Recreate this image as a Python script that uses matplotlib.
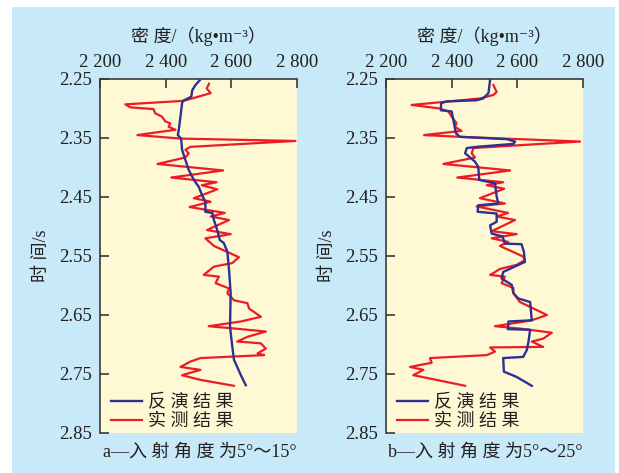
import matplotlib.pyplot as plt
from matplotlib.patches import Rectangle
from matplotlib.font_manager import FontProperties

# font lists: serif digits, CJK fallback
FAM = ['Liberation Serif', 'Noto Sans CJK SC', 'DejaVu Serif']
TXT = '#231f20'
RED = '#ec1c24'
BLUE = '#2e3192'

# panel a: measured (red)
t_meas_a = [2.258, 2.266, 2.274, 2.287, 2.293, 2.298, 2.301, 2.308, 2.314, 2.322,
            2.325, 2.331, 2.336, 2.345, 2.351, 2.355, 2.365, 2.370, 2.376, 2.383,
            2.394, 2.405, 2.417, 2.425, 2.430, 2.437, 2.452, 2.458, 2.467, 2.477,
            2.483, 2.489, 2.506, 2.513, 2.520, 2.533, 2.552, 2.562, 2.568, 2.582,
            2.585, 2.596, 2.605, 2.613, 2.625, 2.630, 2.639, 2.653, 2.661, 2.669,
            2.673, 2.678, 2.687, 2.695, 2.698, 2.707, 2.715, 2.718, 2.723, 2.729,
            2.738, 2.743, 2.752, 2.760, 2.770]
rho_meas_a = [2532, 2525, 2537, 2455, 2277, 2292, 2363, 2368, 2389, 2399,
              2414, 2409, 2430, 2314, 2445, 2795, 2475, 2460, 2470, 2460,
              2375, 2575, 2417, 2555, 2510, 2557, 2486, 2537, 2473, 2580,
              2537, 2593, 2526, 2598, 2521, 2547, 2623, 2603, 2547, 2516,
              2562, 2552, 2593, 2588, 2608, 2649, 2654, 2690, 2629, 2531,
              2611, 2705, 2649, 2618, 2690, 2705, 2680, 2700, 2506, 2475,
              2445, 2506, 2450, 2506, 2608]

# panel a: inversion (blue)
t_inv_a = [2.252, 2.260, 2.269, 2.280, 2.287, 2.291, 2.314, 2.336, 2.345, 2.351,
           2.370, 2.387, 2.404, 2.421, 2.433, 2.447, 2.458, 2.475, 2.477, 2.489,
           2.506, 2.523, 2.528, 2.543, 2.574, 2.613, 2.670, 2.704, 2.726, 2.738,
           2.752, 2.769]
rho_inv_a = [2504, 2491, 2481, 2478, 2453, 2450, 2445, 2440, 2437, 2447,
             2450, 2460, 2470, 2486, 2501, 2511, 2521, 2521, 2542, 2547,
             2557, 2565, 2577, 2588, 2593, 2598, 2596, 2603, 2608, 2618,
             2629, 2644]

# panel b: measured (red)
t_meas_b = [2.260, 2.272, 2.277, 2.283, 2.294, 2.300, 2.305, 2.314, 2.325, 2.331,
            2.338, 2.345, 2.348, 2.356, 2.367, 2.376, 2.383, 2.394, 2.405, 2.417,
            2.425, 2.430, 2.436, 2.452, 2.461, 2.466, 2.477, 2.483, 2.489, 2.508,
            2.513, 2.520, 2.526, 2.533, 2.551, 2.557, 2.565, 2.572, 2.579, 2.582,
            2.585, 2.596, 2.604, 2.613, 2.628, 2.650, 2.659, 2.669, 2.673, 2.680,
            2.690, 2.695, 2.704, 2.705, 2.712, 2.718, 2.723, 2.731, 2.738, 2.743,
            2.752, 2.760, 2.770]
rho_meas_b = [2527, 2537, 2527, 2486, 2278, 2365, 2390, 2400, 2415, 2410,
              2430, 2316, 2425, 2791, 2466, 2461, 2471, 2375, 2578, 2417,
              2557, 2507, 2560, 2486, 2562, 2476, 2572, 2537, 2593, 2522,
              2598, 2522, 2572, 2547, 2618, 2623, 2598, 2547, 2527, 2517,
              2562, 2552, 2588, 2588, 2608, 2690, 2644, 2532, 2608, 2705,
              2679, 2644, 2679, 2517, 2532, 2507, 2334, 2339, 2273, 2314,
              2283, 2354, 2441]

# panel b: inversion (blue)
t_inv_b = [2.252, 2.274, 2.283, 2.286, 2.288, 2.291, 2.303, 2.305, 2.319, 2.342,
           2.348, 2.352, 2.356, 2.360, 2.365, 2.367, 2.376, 2.383, 2.390, 2.399,
           2.421, 2.427, 2.449, 2.461, 2.464, 2.475, 2.478, 2.492, 2.498, 2.512,
           2.517, 2.529, 2.530, 2.543, 2.560, 2.577, 2.588, 2.599, 2.613, 2.622,
           2.628, 2.659, 2.661, 2.674, 2.675, 2.695, 2.709, 2.721, 2.723, 2.746,
           2.755, 2.770]
rho_inv_b = [2517, 2512, 2496, 2476, 2385, 2368, 2367, 2400, 2405, 2413,
             2425, 2568, 2593, 2588, 2476, 2446, 2441, 2456, 2471, 2481,
             2484, 2532, 2537, 2542, 2481, 2479, 2537, 2537, 2517, 2522,
             2555, 2562, 2613, 2620, 2623, 2557, 2552, 2583, 2588, 2603,
             2639, 2644, 2573, 2571, 2639, 2634, 2629, 2618, 2557, 2559,
             2598, 2644]

xticks = [2200, 2400, 2600, 2800]
xtick_labels = ['2 200', '2 400', '2 600', '2 800']
yticks = [2.25, 2.35, 2.45, 2.55, 2.65, 2.75, 2.85]
captions = ['a—入 射 角 度 为5°～15°', 'b—入 射 角 度 为5°～25°']
legend_labels = ['反 演 结 果', '实 测 结 果']

W, H = 619, 473
fig = plt.figure(figsize=(W / 100, H / 100), dpi=100)
fig.patch.set_facecolor('white')
fig.patches.append(Rectangle((12 / W, 0), (615 - 12) / W, (H - 7) / H,
                             transform=fig.transFigure, facecolor='#c7e9f8',
                             edgecolor='none', zorder=-10))

panels = [
    (100, t_meas_a, rho_meas_a, t_inv_a, rho_inv_a, captions[0]),
    (386, t_meas_b, rho_meas_b, t_inv_b, rho_inv_b, captions[1]),
]

for left, tm, rm, ti, ri, cap in panels:
    ax = fig.add_axes([left / W, (H - 433) / H, 197 / W, 354 / H])
    ax.set_facecolor('#fef9d4')
    inv, = ax.plot(ri, ti, color=BLUE, lw=1.7, zorder=3)
    meas, = ax.plot(rm, tm, color=RED, lw=1.6, zorder=2)
    ax.set_xlim(2200, 2800)
    ax.set_ylim(2.85, 2.25)

    for s in ['right', 'bottom']:
        ax.spines[s].set_visible(False)
    for s in ['left', 'top']:
        ax.spines[s].set_color('#3a3a3a')
        ax.spines[s].set_linewidth(1.2)

    ax.xaxis.tick_top()
    ax.set_xticks(xticks)
    ax.set_xticklabels(xtick_labels)
    ax.set_yticks(yticks)
    ax.set_yticklabels(['%.2f' % v for v in yticks])
    ax.tick_params(direction='in', length=6.5, width=1.2, color='#3a3a3a',
                   labelsize=13.5, labelcolor=TXT, pad=6)
    for lab in ax.get_xticklabels() + ax.get_yticklabels():
        lab.set_family(FAM)

    ax.text(0.5, 1.12, '密 度/（kg•m⁻³）', transform=ax.transAxes,
            ha='center', va='center', fontsize=13, family=FAM, color=TXT)
    ax.text(-0.296, 0.5, '时 间/s', transform=ax.transAxes, rotation=90,
            ha='center', va='center', fontsize=13, family=FAM, color=TXT)
    ax.text(0.505, -0.054, cap, transform=ax.transAxes,
            ha='center', va='center', fontsize=13, family=FAM, color=TXT)

    ax.legend([inv, meas], legend_labels, loc='upper left',
              bbox_to_anchor=(0.055, 0.11), frameon=False,
              borderpad=0, borderaxespad=0, handlelength=1.75,
              handletextpad=0.3, labelspacing=0.1,
              prop=FontProperties(family=FAM, size=13), labelcolor=TXT)

fig.savefig('out.png', dpi=100)
